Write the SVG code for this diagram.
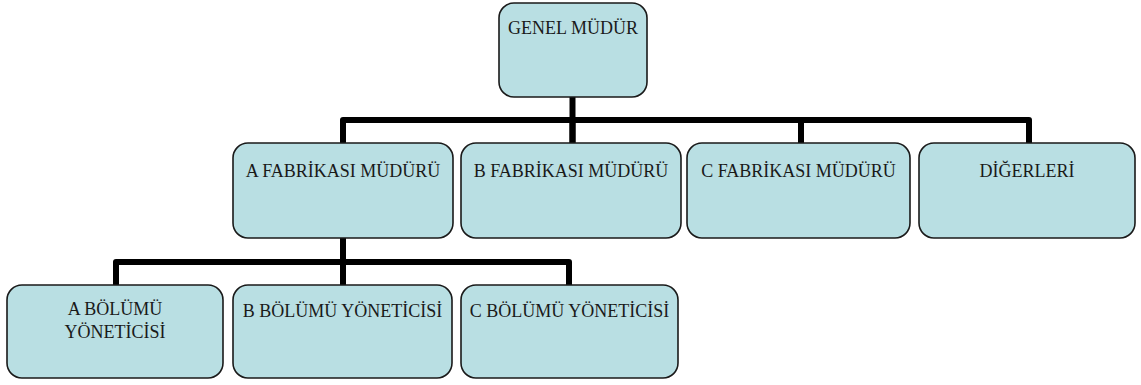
<svg xmlns="http://www.w3.org/2000/svg" width="1141" height="385" viewBox="0 0 1141 385">
  <style>
    .box { fill: #b9dfe3; stroke: #1a1a1a; stroke-width: 1.6; }
    .lbl { font-family: "Liberation Serif", "Times New Roman", serif; font-size: 18px; fill: #1a1a1a; text-anchor: middle; }
    .link { fill: none; stroke: #000; stroke-width: 6; stroke-linejoin: round; }
  </style>
  <rect width="1141" height="385" fill="#ffffff"/>

  <!-- connectors -->
  <g id="connectors">
    <path class="link" d="M572.5 97 V146"/>
    <path class="link" d="M343 146 V120 H1029 V146"/>
    <path class="link" d="M572.5 120 V146"/>
    <path class="link" d="M801 120 V146"/>
    <path class="link" d="M343 236 V288"/>
    <path class="link" d="M116 288 V262 H569 V288"/>
  </g>

  <!-- top level -->
  <g id="genel-mudur">
    <rect class="box" x="499" y="3" width="148" height="94" rx="15"/>
    <text class="lbl" x="573" y="34">GENEL MÜDÜR</text>
  </g>

  <!-- factory managers -->
  <g id="a-fabrikasi">
    <rect class="box" x="233" y="143" width="220" height="95" rx="15"/>
    <text class="lbl" x="343" y="177">A FABRİKASI MÜDÜRÜ</text>
  </g>
  <g id="b-fabrikasi">
    <rect class="box" x="461" y="143" width="220" height="95" rx="15"/>
    <text class="lbl" x="571" y="177">B FABRİKASI MÜDÜRÜ</text>
  </g>
  <g id="c-fabrikasi">
    <rect class="box" x="687" y="143" width="223" height="95" rx="15"/>
    <text class="lbl" x="798.5" y="177">C FABRİKASI MÜDÜRÜ</text>
  </g>
  <g id="digerleri">
    <rect class="box" x="919" y="143" width="216" height="95" rx="15"/>
    <text class="lbl" x="1027" y="177">DİĞERLERİ</text>
  </g>

  <!-- department heads -->
  <g id="a-bolumu">
    <rect class="box" x="7" y="285" width="216" height="93" rx="15"/>
    <text class="lbl" x="115" y="315">A BÖLÜMÜ</text>
    <text class="lbl" x="115" y="338">YÖNETİCİSİ</text>
  </g>
  <g id="b-bolumu">
    <rect class="box" x="233" y="285" width="219" height="93" rx="15"/>
    <text class="lbl" x="342.5" y="317">B BÖLÜMÜ YÖNETİCİSİ</text>
  </g>
  <g id="c-bolumu">
    <rect class="box" x="461" y="285" width="217" height="93" rx="15"/>
    <text class="lbl" x="569.5" y="317">C BÖLÜMÜ YÖNETİCİSİ</text>
  </g>
</svg>
